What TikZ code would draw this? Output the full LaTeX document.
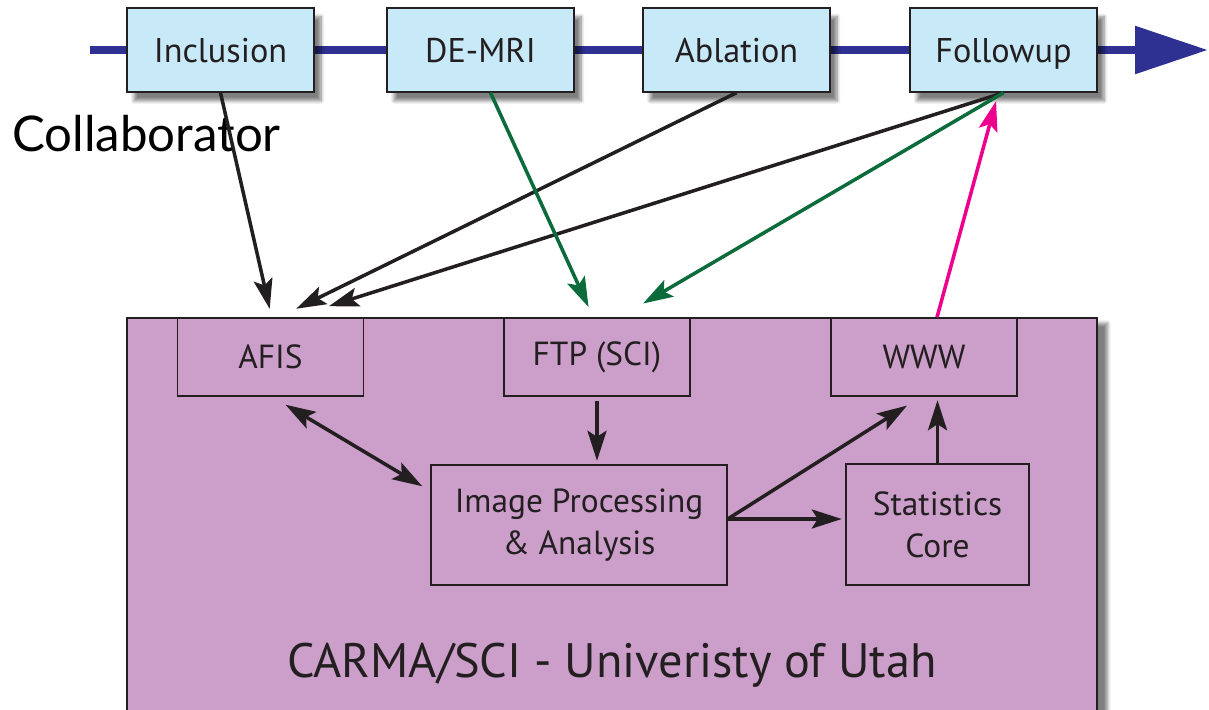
\documentclass[tikz,border=0pt]{standalone}
\usepackage{fontspec}
\setmainfont{PT Sans}
\newfontfamily\collabfont{Lato}
\usetikzlibrary{arrows.meta,shadows.blur}
\definecolor{stageblue}{HTML}{C7E9F8}
\definecolor{flowblue}{HTML}{2E3192}
\definecolor{carmapurple}{HTML}{CC9ECA}
\definecolor{boxline}{HTML}{231F20}
\definecolor{sendgreen}{HTML}{0B6B3A}
\definecolor{webpink}{HTML}{EC008C}
\begin{document}
\begin{tikzpicture}[
	stagebox/.style = {rectangle, draw=boxline, line width=0.8pt, fill=stageblue, text=boxline,
		minimum width=3.74cm, minimum height=1.68cm, text height=16pt, text depth=2pt,
		font=\fontsize{19.5}{21}\selectfont,
		blur shadow={shadow xshift=4pt, shadow yshift=-5pt, shadow blur steps=8, shadow opacity=50}},
	corebox/.style = {rectangle, draw=boxline, line width=0.8pt, text=boxline,
		minimum width=3.72cm, minimum height=1.56cm, font=\fontsize{19}{21}\selectfont},
	arr/.style = {-{Stealth[length=0.6cm, width=0.38cm, inset=0.12cm]}, line width=2pt, shorten >=2pt},
	darr/.style = {{Stealth[length=0.6cm, width=0.38cm, inset=0.12cm]}-{Stealth[length=0.6cm, width=0.38cm, inset=0.12cm]}, line width=2pt}
	]
	\useasboundingbox (0,0) rectangle (24.18,-14.2);
	\clip (0,0) rectangle (24.18,-14.2);
	% time line
	\coordinate (flowstart) at (1.8,-1.0);
	\coordinate (flowend) at (24.16,-1.0);
	\draw [flowblue, line width=5pt, -{Triangle[length=1.46cm, width=0.92cm]}] (flowstart) -- (flowend);
	\node (incl) at (4.41,-1.0) [stagebox] {Inclusion};
	\node (demri) at (9.61,-1.0) [stagebox] {DE-MRI};
	\node (abl) at (14.73,-1.0) [stagebox] {Ablation};
	\node (fup) at (20.07,-1.0) [stagebox] {Followup};
	\node (collab) at (0.24,-2.68) [anchor=west, inner sep=0pt, font=\collabfont\fontsize{28}{30}\selectfont] {Collaborator};
	% CARMA / SCI
	\node (carma) at (12.24,-10.48) [rectangle, draw=boxline, line width=0.8pt, fill=carmapurple,
		minimum width=19.4cm, minimum height=8.24cm,
		blur shadow={shadow xshift=6pt, shadow yshift=-3pt, shadow blur steps=8, shadow opacity=50}] {};
	\node (carmatext) at (12.24,-13.3) [text=boxline, font=\fontsize{27.5}{30}\selectfont] {CARMA/SCI - Univeristy of Utah};
	\node (afis) at (5.41,-7.14) [corebox] {AFIS};
	\node (ftp) at (11.94,-7.14) [corebox] {FTP (SCI)};
	\node (www) at (18.48,-7.14) [corebox] {WWW};
	\node (ip) at (11.58,-10.5) [corebox, minimum width=5.92cm, minimum height=2.4cm, align=center] {Image Processing\\[3pt] \& Analysis};
	\node (stats) at (18.75,-10.49) [corebox, minimum width=3.66cm, minimum height=2.42cm, align=center] {Statistics\\[3pt] Core};
	% to and from the collaborator
	\draw [arr, boxline] (incl.south) -- ([yshift=0.1cm]afis.north);
	\draw [arr, boxline] (abl.south) -- ([xshift=0.45cm, yshift=0.14cm]afis.north);
	\draw [arr, boxline] (fup.south) -- ([xshift=1.1cm, yshift=0.2cm]afis.north);
	\draw [arr, sendgreen] ([xshift=0.2cm]demri.south) -- ([xshift=-0.14cm, yshift=0.14cm]ftp.north);
	\draw [arr, sendgreen] (fup.south) -- ([xshift=0.86cm, yshift=0.24cm]ftp.north);
	\draw [arr, webpink] ([xshift=0.26cm]www.north) -- ([xshift=-0.13cm, yshift=-0.1cm]fup.south);
	% inside
	\coordinate (ipout) at ([yshift=0.12cm]ip.east);
	\draw [darr, boxline] ([xshift=0.3cm, yshift=-0.16cm]afis.south) -- ([xshift=-0.16cm, yshift=-0.44cm]ip.north west);
	\draw [arr, boxline] ([yshift=-0.08cm]ftp.south) -- (ftp.south |- ip.north);
	\draw [arr, boxline] (ipout) -- ([xshift=-0.28cm, yshift=-0.14cm]www.south);
	\draw [arr, boxline] (ipout) -- (ipout -| stats.west);
	\draw [arr, boxline] (stats.north) -- (stats.north |- www.south);
\end{tikzpicture}
\end{document}
